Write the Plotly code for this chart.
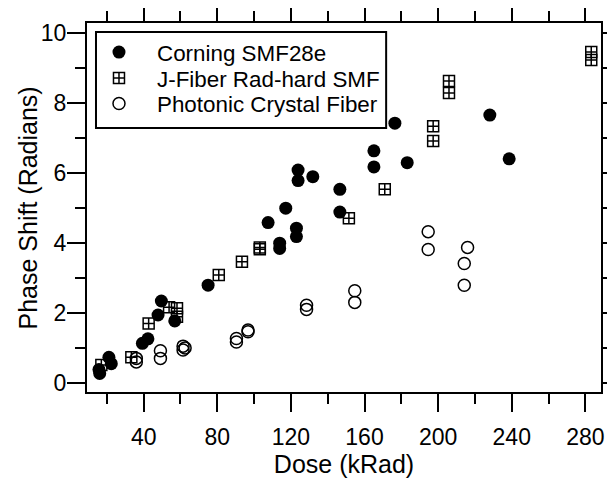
import plotly.graph_objects as go

corning_x = [15.7, 16.1, 21.1, 22.4, 39.3, 42.3, 47.8, 49.6, 56.9, 75.0, 107.6, 113.9, 113.9, 117.2,
             123.0, 123.0, 123.9, 123.9, 131.9, 146.6, 146.6, 165.1, 165.1, 176.5, 183.2, 228.1, 238.6]
corning_y = [0.38, 0.27, 0.73, 0.55, 1.13, 1.26, 1.94, 2.34, 1.77, 2.79, 4.58, 3.99, 3.84, 4.99,
             4.42, 4.18, 6.08, 5.78, 5.89, 5.53, 4.88, 6.63, 6.17, 7.42, 6.29, 7.65, 6.40]

jfiber_x = [17.0, 33.3, 42.7, 53.8, 58.1, 58.1, 80.8, 93.4, 103.1, 103.1, 151.5, 171.0,
            197.3, 197.3, 205.9, 205.9, 283.2, 283.2]
jfiber_y = [0.51, 0.73, 1.70, 2.16, 2.13, 1.89, 3.08, 3.46, 3.87, 3.82, 4.70, 5.53,
            7.33, 6.91, 8.62, 8.28, 9.45, 9.22]

pcf_x = [36.0, 36.0, 49.1, 49.1, 61.4, 62.5, 61.4, 90.4, 90.4, 96.7, 96.7, 128.5, 128.5,
         154.7, 154.7, 194.6, 194.6, 216.0, 214.2, 214.2]
pcf_y = [0.70, 0.60, 0.92, 0.70, 1.05, 1.00, 0.94, 1.27, 1.17, 1.51, 1.46, 2.22, 2.10,
         2.63, 2.30, 4.32, 3.81, 3.87, 3.41, 2.79]

x_tickvals = [40, 80, 120, 160, 200, 240, 280]
y_tickvals = [0, 2, 4, 6, 8, 10]

FONT = "Liberation Sans, Arial, sans-serif"

fig = go.Figure()
fig.add_trace(go.Scatter(x=corning_x, y=corning_y, mode="markers", name="Corning SMF28e",
                         legend="legend", showlegend=True,
                         marker=dict(symbol="circle", size=13, color="black")))
fig.add_trace(go.Scatter(x=jfiber_x, y=jfiber_y, mode="markers", name="J-Fiber Rad-hard SMF",
                         legend="legend2", showlegend=True,
                         marker=dict(symbol="square-cross-open", size=11, color="black",
                                     line=dict(width=1.5, color="black"))))
fig.add_trace(go.Scatter(x=pcf_x, y=pcf_y, mode="markers", name="Photonic Crystal Fiber",
                         legend="legend3", showlegend=True,
                         marker=dict(symbol="circle-open", size=12, color="black",
                                     line=dict(width=1.5, color="black"))))

axis_common = dict(showline=True, linecolor="black", linewidth=2, mirror="ticks",
                   ticks="outside", ticklen=18, tickwidth=2, tickcolor="black",
                   showgrid=False, zeroline=False, automargin=False,
                   tickfont=dict(family=FONT, size=23, color="black"))

fig.update_xaxes(range=[9.2, 288.5], tickvals=x_tickvals, ticklabelstandoff=5,
                 minor=dict(dtick=20, tick0=0, ticks="outside", ticklen=10, tickwidth=2, tickcolor="black"),
                 title=dict(text="Dose (kRad)", font=dict(family=FONT, size=25, color="black"), standoff=6),
                 **axis_common)
fig.update_yaxes(range=[-0.26, 10.28], tickvals=y_tickvals, ticklabelstandoff=-4,
                 minor=dict(dtick=1, tick0=0, ticks="outside", ticklen=10, tickwidth=2, tickcolor="black"),
                 **axis_common)

leg_common = dict(xanchor="left", yanchor="middle", borderwidth=0, bgcolor="rgba(0,0,0,0)",
                  font=dict(family=FONT, size=22.4, color="black"), itemwidth=66)
LEG_X = -0.0117

fig.update_layout(
    width=607, height=474,
    margin=dict(l=79, r=14, t=15, b=90),
    paper_bgcolor="white", plot_bgcolor="white",
    font=dict(family=FONT, size=20, color="black"),
    showlegend=True,
    legend=dict(x=LEG_X, y=0.92, **leg_common),
    legend2=dict(x=LEG_X, y=0.85, **leg_common),
    legend3=dict(x=LEG_X, y=0.7805, **leg_common),
    shapes=[dict(type="rect", xref="paper", yref="paper", x0=0.0175, x1=0.582, y0=0.7154, y1=0.9756,
                 line=dict(color="black", width=2), fillcolor="white", layer="below")],
    annotations=[dict(text="Phase Shift (Radians)", textangle=-90, xref="paper", yref="paper",
                      x=-0.1148, y=0.5, xanchor="center", yanchor="middle", showarrow=False,
                      font=dict(family=FONT, size=25, color="black"))],
)

fig.write_html("out.html")
